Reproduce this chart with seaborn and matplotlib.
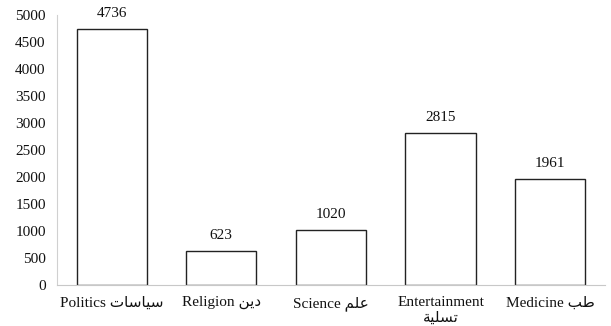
import matplotlib
matplotlib.use("Agg")
import matplotlib.pyplot as plt
import seaborn as sns
import pandas as pd

# arabic words written in presentation forms, visual order (matplotlib has no shaping)
categories = ["Politics \ufe95\ufe8e\ufeb3\ufe8e\ufef4\ufeb3",
              "Religion \ufee6\ufef3\ufea9",
              "Science \ufee2\ufee0\ufecb",
              "Entertainment\n\ufe94\ufef4\ufee0\ufeb4\ufe97",
              "Medicine \ufe90\ufec3"]
counts = [4736, 623, 1020, 2815, 1961]

df = pd.DataFrame({"cat": categories, "n": counts})

sns.set_style("white")
plt.rcParams['font.family'] = ['Liberation Serif', 'DejaVu Sans']

fig = plt.figure(figsize=(6.11, 3.26), dpi=100)
ax = fig.add_axes([0.093, 0.126, 0.897, 0.828])

sns.barplot(data=df, x="cat", y="n", color="white", edgecolor="#222222",
            linewidth=1, width=0.64, ax=ax)

for i, v in enumerate(counts):
    ax.text(i, v + 170, str(v), ha="center", va="bottom", fontsize=11, color="#111111")

ax.set_ylim(0, 5000)
ax.set_yticks(range(0, 5001, 500))
ax.set_xlabel("")
ax.set_ylabel("")
ax.tick_params(axis="both", labelsize=11, length=0, colors="#111111")
ax.tick_params(axis="x", pad=8)
ax.tick_params(axis="y", pad=8)
for s in ["top", "right"]:
    ax.spines[s].set_visible(False)
ax.spines["left"].set_color("#d0d0d0")
ax.spines["bottom"].set_color("#c8c8c8")

fig.savefig("out.png", dpi=100)
